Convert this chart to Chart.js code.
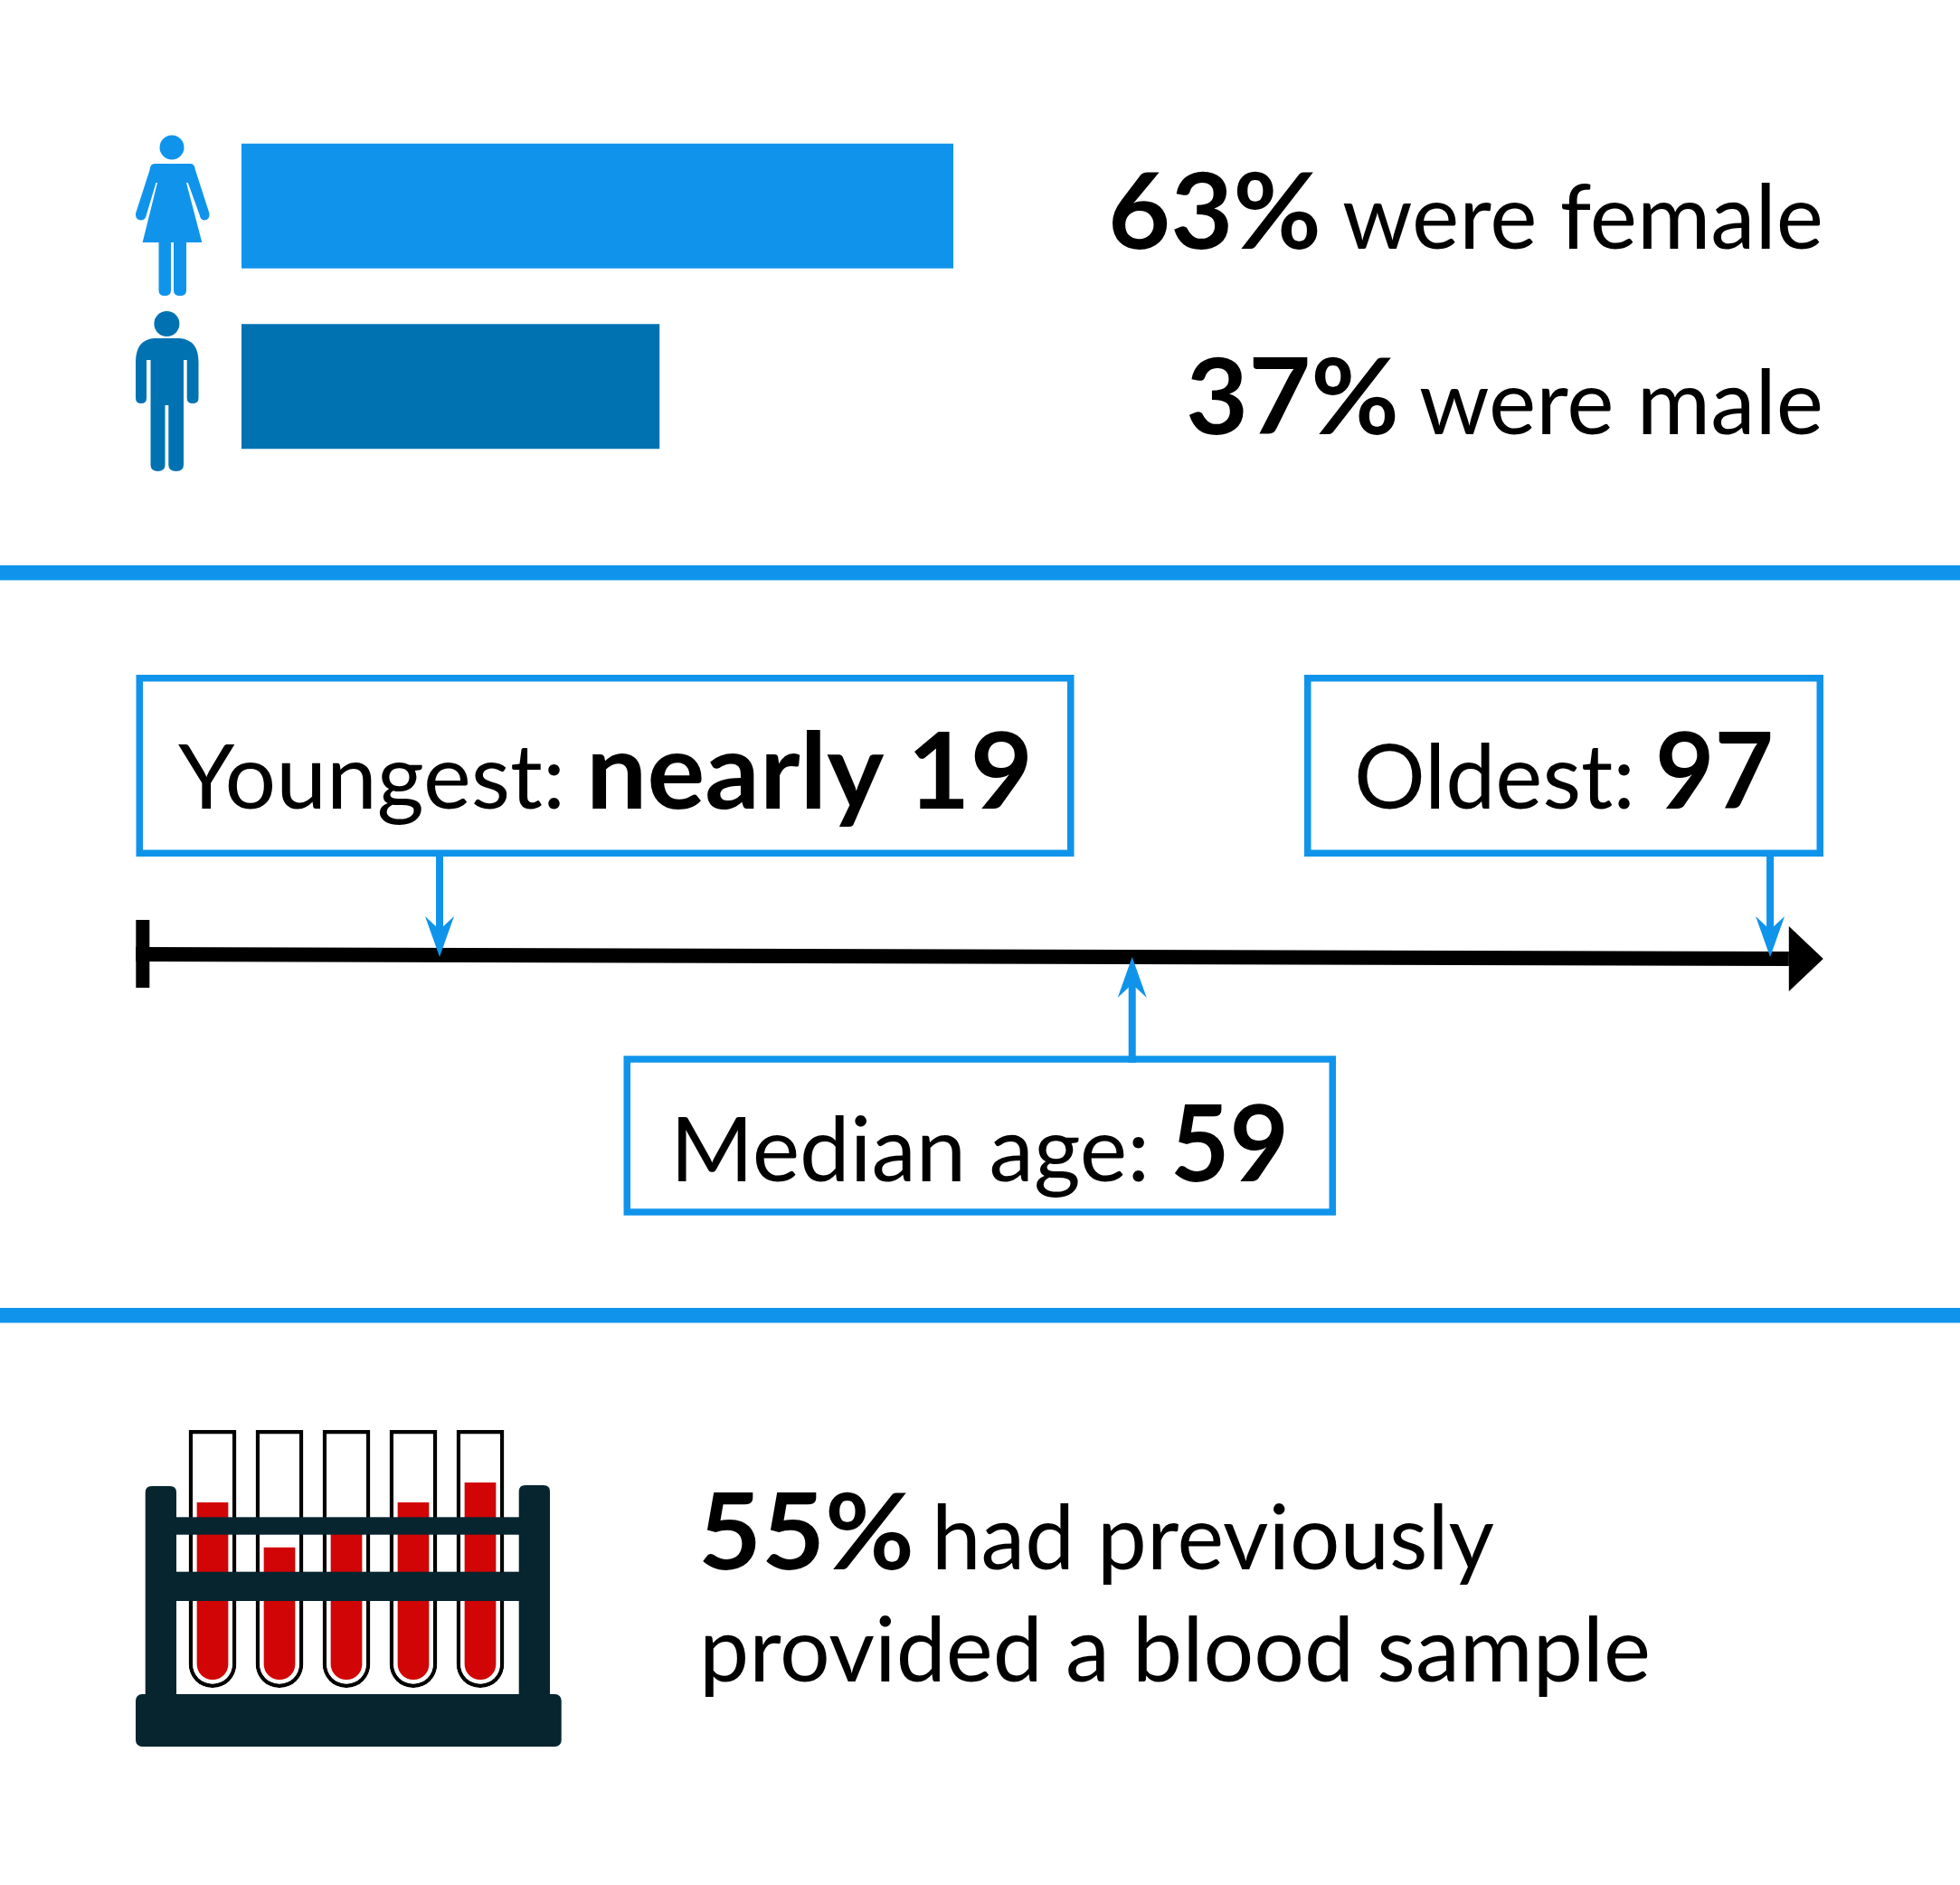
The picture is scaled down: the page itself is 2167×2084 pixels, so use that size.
<!DOCTYPE html>
<html>
<head>
<meta charset="utf-8">
<title>Participants</title>
<style>
  html, body { margin: 0; background: #fff; }
  #page { position: relative; width: 2167px; height: 2084px; overflow: hidden; background: #fff; }
  #page canvas { position: absolute; }
  #overlay { position: absolute; left: 0; top: 0; z-index: 2; }
  #overlay text { font-family: Lato, "Open Sans", sans-serif; fill: #000; }
  #overlay .reg { font-size: 99px; font-weight: 400; }
  #overlay .big { font-size: 116px; font-weight: 700; }
</style>
<script src="https://cdn.jsdelivr.net/npm/chart.js@4"></script>
</head>
<body>
<div id="page">
  <canvas id="genderChart" width="787" height="399" style="left:267px;top:128px"></canvas>
  <canvas id="ageChart" width="2167" height="235" style="left:0;top:940px"></canvas>
  <canvas id="tubeChart" width="370" height="285" style="left:198px;top:1581px"></canvas>

  <svg id="overlay" width="2167" height="2084" xmlns="http://www.w3.org/2000/svg">
    <rect x="0" y="625" width="2167" height="16.5" fill="#1094EB"/>
    <rect x="0" y="1446" width="2167" height="16.5" fill="#1094EB"/>

    <!-- woman -->
    <g fill="#1094EB">
      <circle cx="190" cy="163" r="13.5"/>
      <path d="M171 181 H211 Q215 181 216 188 L231.5 236 Q232 243 226 243.5 Q221.5 243 220.8 238 L207.8 202 H206 L223.3 268 H206 V321 Q206 327 199 327 Q192 327 192 321 V268 H189 V321 Q189 327 182 327 Q175.5 327 175.5 321 V268 H157.6 L174 202 H172.5 L162 237 Q161 243 156 243.5 Q149.5 243 150 236 L165.5 188 Q166 181 171 181 Z"/>
    </g>
    <!-- man -->
    <g fill="#0072B2">
      <circle cx="184.4" cy="358" r="14"/>
      <path d="M170 374 H199 Q219.5 376 219.5 400 V440 Q219.5 446 213 446 Q206.7 446 206.7 440 V398 H203 V514 Q203 521 194.6 521 Q186.3 521 186.3 514 V448 H182.5 V514 Q182.5 521 174.5 521 Q166.5 521 166.5 514 V398 H162 V440 Q162 446 156 446 Q150 446 150 440 V400 Q150 376 170 374 Z"/>
    </g>

    <!-- callout boxes -->
    <g fill="none" stroke="#1094EB" stroke-width="7.5">
      <rect x="154.25" y="749.75" width="1029.5" height="193.5"/>
      <rect x="1445.75" y="749.75" width="566.5" height="193.5"/>
      <rect x="693.25" y="1171" width="780" height="169"/>
    </g>

    <!-- test tube rack sits in front of the tubes -->
    <g fill="#07252F">
      <path d="M160.7 1880 V1650 Q160.7 1643 167.7 1643 H188 Q195 1643 195 1650 V1880 Z"/>
      <path d="M573.7 1880 V1649 Q573.7 1642 580.7 1642 H601 Q608 1642 608 1649 V1880 Z"/>
      <rect x="190" y="1677.3" width="388" height="19.4"/>
      <rect x="190" y="1737.7" width="388" height="32.3"/>
      <rect x="150" y="1873" width="470.7" height="58" rx="7"/>
    </g>
    <g id="labels"></g>
  </svg>
</div>

<script>
// values
const genderLabels = ['Female', 'Male'];
const genderShares = [63, 37];
const genderColors = ['#1094EB', '#0072B2'];

const ageMarkers = ['Youngest', 'Median age', 'Oldest'];
const markerAges = [19, 59.6, 97];
const markerSides = ['above', 'below', 'above'];
const axisAges = [1.2, 98.1];   // span of the black age line
const axisDrift = [3, -2];      // the line tilts very slightly in the original

const tubeLabels = ['Tube 1', 'Tube 2', 'Tube 3', 'Tube 4', 'Tube 5'];
const tubeFill = [71, 53, 60, 71, 79];
const tubeFull = [-3.26, 100];

const blue = '#1094EB';
const red = '#D10505';

new Chart(document.getElementById('genderChart'), {
  type: 'bar',
  data: {
    labels: genderLabels,
    datasets: [{
      data: genderShares,
      backgroundColor: genderColors,
      barThickness: 138,
      inflateAmount: 0
    }]
  },
  options: {
    indexAxis: 'y',
    responsive: false,
    animation: false,
    layout: { padding: 0 },
    plugins: { legend: { display: false }, tooltip: { enabled: false } },
    scales: {
      x: { display: false, min: 0, max: 63 },
      y: { display: false }
    }
  }
});

// arrows, start tick and axis head hang off the age scale
const ageArrows = {
  id: 'ageArrows',
  afterDatasetsDraw(chart) {
    const { ctx, scales: { x, y }, chartArea } = chart;
    const y0 = y.getPixelForValue(0);

    ctx.save();
    ctx.fillStyle = '#000';
    const startX = x.getPixelForValue(axisAges[0]);
    ctx.fillRect(startX, y0 - 41, 15, 75);

    const headX = x.getPixelForValue(axisAges[1]);
    const headY = y.getPixelForValue(axisDrift[1]);
    ctx.beginPath();
    ctx.moveTo(headX, headY - 36);
    ctx.lineTo(headX + 38, headY);
    ctx.lineTo(headX, headY + 36);
    ctx.closePath();
    ctx.fill();

    ctx.fillStyle = blue;
    markerAges.forEach((age, i) => {
      const px = x.getPixelForValue(age);
      const dir = markerSides[i] === 'above' ? -1 : 1;
      const edge = dir < 0 ? chartArea.top : chartArea.bottom;
      ctx.fillRect(px - 4, Math.min(edge, y0 + dir * 20), 8, Math.abs(edge - (y0 + dir * 20)));
      ctx.beginPath();
      ctx.moveTo(px, y0);
      ctx.lineTo(px - 16, y0 + dir * 45);
      ctx.lineTo(px, y0 + dir * 30);
      ctx.lineTo(px + 16, y0 + dir * 45);
      ctx.closePath();
      ctx.fill();
    });
    ctx.restore();
  }
};

new Chart(document.getElementById('ageChart'), {
  type: 'scatter',
  data: {
    datasets: [
      {
        label: 'Age axis',
        data: axisAges.map((age, i) => ({ x: age, y: axisDrift[i] })),
        showLine: true,
        borderColor: '#000',
        borderWidth: 16,
        pointRadius: 0,
        borderCapStyle: 'butt'
      },
      {
        label: 'Ages',
        data: markerAges.map(age => ({ x: age, y: 0 })),
        pointRadius: 0
      }
    ]
  },
  options: {
    responsive: false,
    animation: false,
    layout: { padding: 0 },
    plugins: { legend: { display: false }, tooltip: { enabled: false } },
    scales: {
      x: { type: 'linear', display: false, min: -6.77, max: 108.13 },
      y: { display: false, min: -117, max: 118 }
    }
  },
  plugins: [ageArrows]
});

new Chart(document.getElementById('tubeChart'), {
  type: 'bar',
  data: {
    labels: tubeLabels,
    datasets: [
      {
        label: 'Blood',
        data: tubeFill,
        backgroundColor: red,
        barThickness: 34.7,
        grouped: false,
        inflateAmount: 0,
        borderSkipped: false,
        borderRadius: { topLeft: 0, topRight: 0, bottomLeft: 17, bottomRight: 17 }
      },
      {
        label: 'Tube',
        data: tubeLabels.map(() => tubeFull),
        backgroundColor: '#fff',
        borderColor: '#000',
        borderWidth: 4.5,
        barThickness: 52.7,
        grouped: false,
        inflateAmount: 0,
        borderSkipped: false,
        borderRadius: { topLeft: 0, topRight: 0, bottomLeft: 26, bottomRight: 26 }
      }
    ]
  },
  options: {
    responsive: false,
    animation: false,
    layout: { padding: 0 },
    plugins: { legend: { display: false }, tooltip: { enabled: false } },
    scales: {
      x: { display: false },
      y: { display: false, min: -3.26, max: 100 }
    }
  }
});

// text: [string, class, left, right, baseline]
const labels = [
  [genderShares[0] + '%', 'big', 1225, 1461, 275],
  ['were female', 'reg', 1484, 2016, 275],
  [genderShares[1] + '%', 'big', 1311, 1547, 480],
  ['were male', 'reg', 1569, 2016, 480],
  ['Youngest:', 'reg', 197, 625, 894],
  ['nearly 19', 'big', 648, 1142, 894],
  ['Oldest:', 'reg', 1497, 1808, 894],
  ['97', 'big', 1830, 1961, 894],
  ['Median age:', 'reg', 741, 1271, 1306],
  ['59', 'big', 1294, 1425, 1306],
  ['55%', 'big', 772, 1011, 1735],
  ['had previously', 'reg', 1030, 1652, 1735],
  ['provided a blood sample', 'reg', 773, 1825, 1859]
];

const labelGroup = document.getElementById('labels');
labels.forEach(([str, cls, left, right, base]) => {
  const t = document.createElementNS('http://www.w3.org/2000/svg', 'text');
  t.textContent = str;
  t.setAttribute('class', cls);
  t.setAttribute('x', left);
  t.setAttribute('y', base);
  t.setAttribute('textLength', right - left);
  t.setAttribute('lengthAdjust', 'spacingAndGlyphs');
  labelGroup.appendChild(t);
});
</script>
</body>
</html>
